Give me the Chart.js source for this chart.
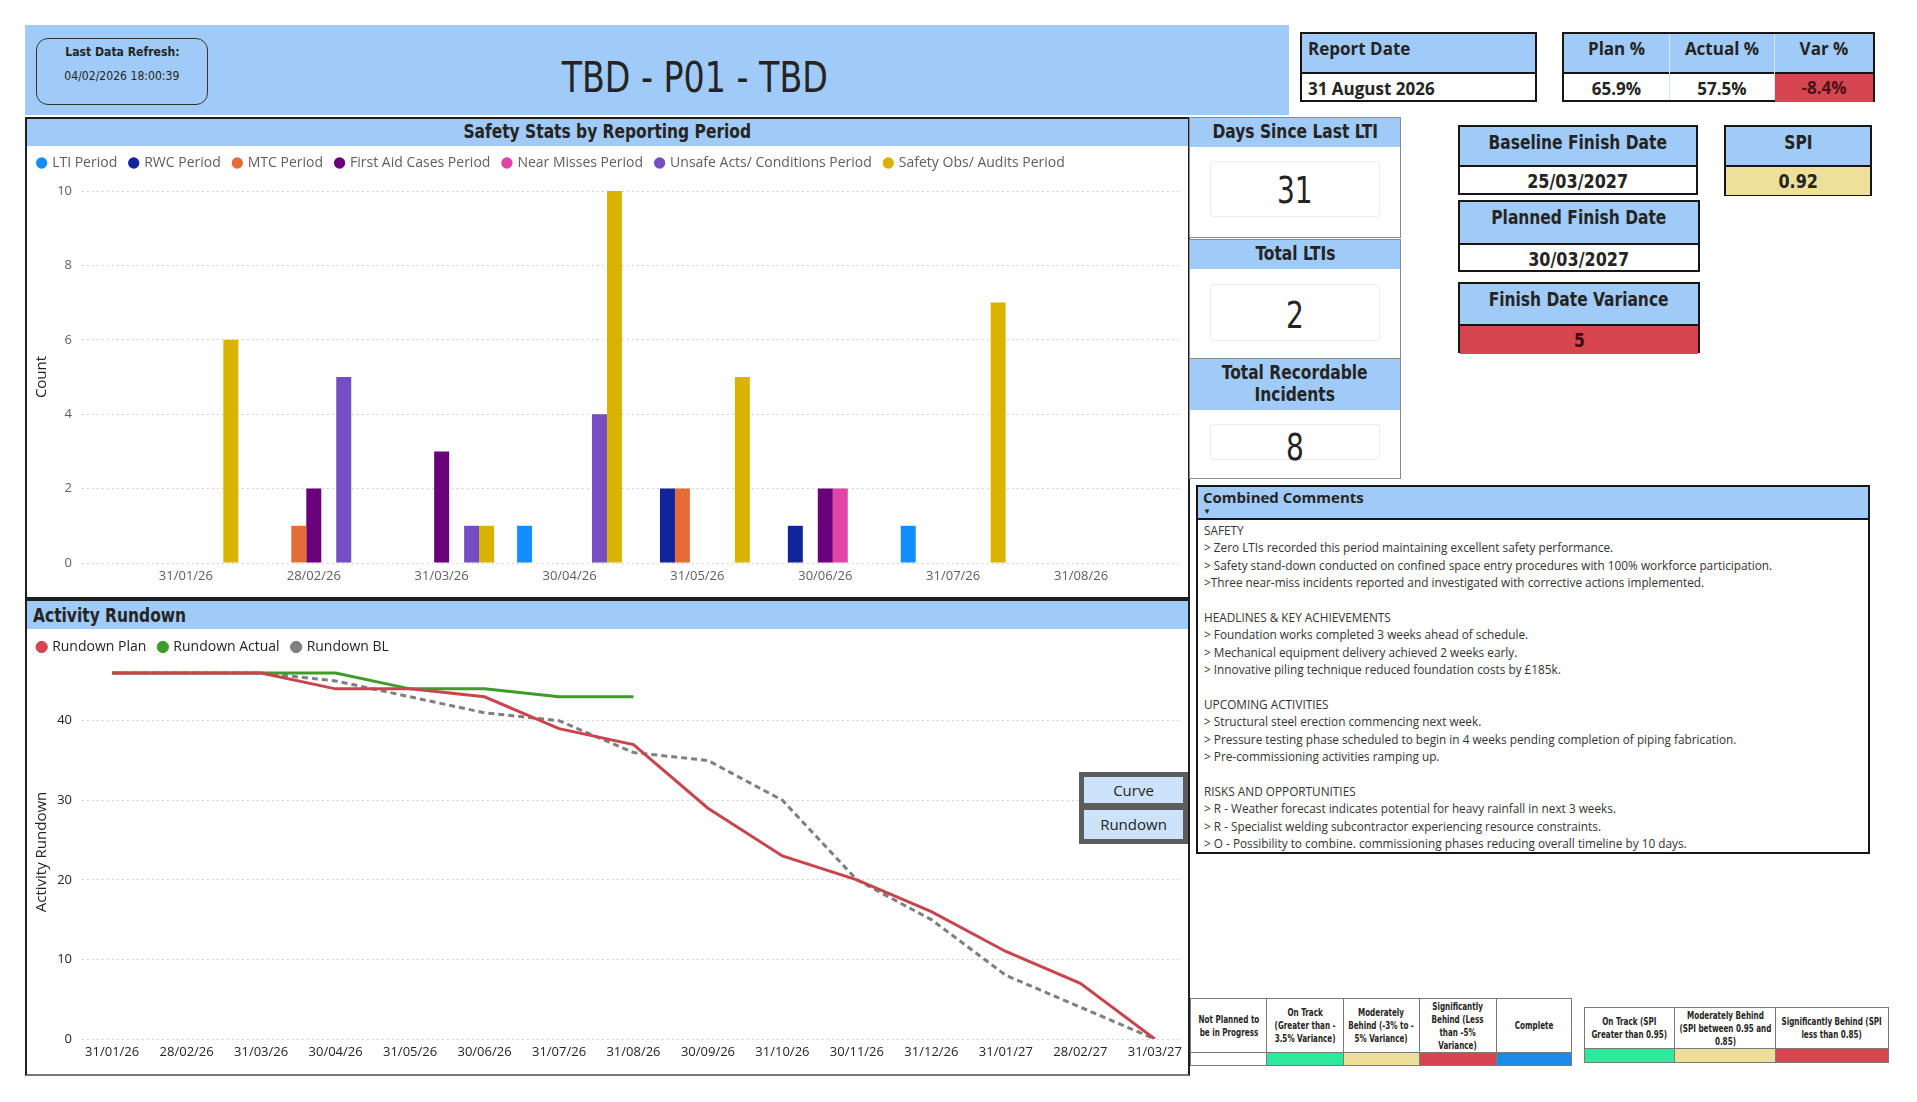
<!DOCTYPE html>
<html>
<head>
<meta charset="utf-8">
<title>TBD - P01 - TBD</title>
<script src="https://cdn.jsdelivr.net/npm/chart.js@4.4.1/dist/chart.umd.min.js"></script>
<style>
  body { margin:0; background:#fff; width:1917px; height:1102px; position:relative; overflow:hidden;
         font-family:'Open Sans', sans-serif; color:#252423; }
  .abs { position:absolute; box-sizing:border-box; }
  .din { font-family:'Liberation Sans Narrow', 'DejaVu Sans Condensed', sans-serif; }
  .sx  { display:inline-block; transform:scaleX(0.86); white-space:nowrap; }
  .sxl { display:inline-block; transform:scaleX(0.86); transform-origin:left center; white-space:nowrap; }
  .blue { background:#A0CBF8; }
  .kbox { border:2px solid #151515; }
  .khead { height:38px; border-bottom:2px solid #151515; text-align:center; font-weight:bold; font-size:20px; line-height:30px; }
  .kval { text-align:center; font-weight:bold; font-size:20px; line-height:28px; }
  .card { position:absolute; border:1px solid #ececec; border-radius:3px; text-align:center; font-size:38px; }
  .panel { border:1px solid #8a8a8a; }
  .phead { position:absolute; left:0; right:0; top:0; text-align:center; font-weight:bold; font-size:20px; }
  .leg { display:flex; border:1px solid #7a7a7a; font-family:'DejaVu Sans Condensed', sans-serif;
         font-weight:bold; font-size:10px; line-height:13px; text-align:center; }
  .leg > div { display:flex; flex-direction:column; flex:none; box-sizing:border-box; overflow:hidden;
               border-right:1px solid #7a7a7a; }
  .leg > div:last-child { border-right:none; }
  .leg .t { flex:1; display:flex; align-items:center; justify-content:center; }
  .leg .t span { display:inline-block; transform:scaleX(0.8); white-space:nowrap; }
  .leg .c { border-top:1px solid #7a7a7a; flex:none; }
  .btn { position:absolute; left:5px; width:99px; background:#CCE3FB; text-align:center; font-size:15px; }
  #comments div { height:17.4px; line-height:17.4px; white-space:nowrap; }
</style>
</head>
<body>

<!-- header band -->
<div class="abs blue" style="left:25px;top:25px;width:1264px;height:90px"></div>
<div class="abs din" style="left:36px;top:38px;width:172px;height:67px;border:1.5px solid #333;border-radius:12px;text-align:center;font-size:13px">
  <div style="font-weight:bold;margin-top:5px"><span class="sx" style="transform:scaleX(0.93)">Last Data Refresh:</span></div>
  <div style="margin-top:9px"><span class="sx" style="transform:scaleX(0.93)">04/02/2026 18:00:39</span></div>
</div>
<div class="abs din" style="left:445px;top:52px;width:500px;text-align:center;font-size:43px;line-height:50px"><span class="sx">TBD - P01 - TBD</span></div>

<!-- report date -->
<div class="abs kbox" style="left:1300px;top:32px;width:237px;height:70px">
  <div class="blue" style="height:38px;border-bottom:2px solid #151515;font-weight:bold;font-size:17px;line-height:29px;padding-left:6px">Report Date</div>
  <div style="font-weight:bold;font-size:17px;line-height:29px;padding-left:6px">31 August 2026</div>
</div>

<!-- plan / actual / var -->
<div class="abs kbox" style="left:1562px;top:32px;width:313px;height:70px;display:flex;font-weight:bold;font-size:17px;text-align:center">
  <div style="width:105px;border-right:1px solid #d8e6f5">
    <div class="blue" style="height:38px;border-bottom:2px solid #151515;line-height:29px">Plan %</div>
    <div style="line-height:29px">65.9%</div>
  </div>
  <div style="width:104px;border-right:1px solid #d8e6f5">
    <div class="blue" style="height:38px;border-bottom:2px solid #151515;line-height:29px">Actual %</div>
    <div style="line-height:29px">57.5%</div>
  </div>
  <div style="flex:1">
    <div class="blue" style="height:38px;border-bottom:2px solid #151515;line-height:29px">Var %</div>
    <div style="line-height:28px;background:#D64550;color:#4a1318">-8.4%</div>
  </div>
</div>

<!-- safety panel -->
<div class="abs" style="left:25px;top:117px;width:1165px;height:482px;border:2px solid #1e1e1e">
  <div class="phead din blue" style="height:27px;line-height:25px"><span class="sx">Safety Stats by Reporting Period</span></div>
</div>

<!-- activity rundown panel -->
<div class="abs" style="left:25px;top:599px;width:1165px;height:477px;border:2px solid #1e1e1e;border-bottom-color:#777">
  <div class="phead din blue" style="height:28px;line-height:28px;text-align:left;padding-left:6px"><span class="sxl">Activity Rundown</span></div>
</div>

<!-- HSE cards -->
<div class="abs panel" style="left:1189px;top:117px;width:212px;height:121px">
  <div class="phead din blue" style="height:29px;line-height:27px"><span class="sx">Days Since Last LTI</span></div>
  <div class="card din" style="left:20px;top:43px;width:168px;height:54px;line-height:56px"><span class="sx" style="transform:scaleX(0.82)">31</span></div>
</div>
<div class="abs panel" style="left:1189px;top:239px;width:212px;height:120px">
  <div class="phead din blue" style="height:29px;line-height:27px"><span class="sx">Total LTIs</span></div>
  <div class="card din" style="left:20px;top:44px;width:168px;height:55px;line-height:60px"><span class="sx" style="transform:scaleX(0.82)">2</span></div>
</div>
<div class="abs panel" style="left:1189px;top:358px;width:212px;height:121px">
  <div class="phead din blue" style="height:51px;line-height:22px;padding-top:2px;box-sizing:border-box"><span class="sx">Total Recordable<br>Incidents</span></div>
  <div class="card din" style="left:20px;top:65px;width:168px;height:34px;line-height:44px"><span class="sx" style="transform:scaleX(0.82)">8</span></div>
</div>

<!-- schedule KPIs -->
<div class="abs kbox din" style="left:1458px;top:125px;width:240px;height:70px">
  <div class="khead blue"><span class="sx">Baseline Finish Date</span></div>
  <div class="kval"><span class="sx" style="transform:scaleX(0.89)">25/03/2027</span></div>
</div>
<div class="abs kbox din" style="left:1458px;top:200px;width:242px;height:72px">
  <div class="khead blue" style="height:41px"><span class="sx">Planned Finish Date</span></div>
  <div class="kval"><span class="sx" style="transform:scaleX(0.89)">30/03/2027</span></div>
</div>
<div class="abs kbox din" style="left:1458px;top:282px;width:242px;height:71px">
  <div class="khead blue" style="height:40px"><span class="sx">Finish Date Variance</span></div>
  <div class="kval" style="background:#D64550;color:#3a0d10"><span class="sx">5</span></div>
</div>
<div class="abs kbox din" style="left:1724px;top:125px;width:148px;height:71px">
  <div class="khead blue"><span class="sx">SPI</span></div>
  <div class="kval" style="background:#EEE09B"><span class="sx" style="transform:scaleX(0.89)">0.92</span></div>
</div>

<!-- comments -->
<div class="abs kbox" style="left:1196px;top:485px;width:674px;height:369px;overflow:hidden">
  <div class="blue" style="height:33px;border-bottom:2px solid #151515;padding:0 0 0 5px;box-sizing:border-box;font-weight:bold;font-size:15px;line-height:20px">
    Combined Comments<div style="font-size:8px;line-height:8px">&#9660;</div>
  </div>
  <div id="comments" style="padding:2px 0 0 6px;font-size:11.8px;color:#333"></div>
</div>

<!-- charts -->
<canvas id="safetyChart" class="abs" width="1161" height="449" style="left:27px;top:147px;width:1161px;height:449px"></canvas>
<canvas id="rundownChart" class="abs" width="1161" height="444" style="left:27px;top:629px;width:1161px;height:444px"></canvas>

<!-- view toggle -->
<div class="abs" style="left:1079px;top:772px;width:109px;height:72px;background:#5d5d5d">
  <div class="btn" style="top:5px;height:26px;line-height:26px">Curve</div>
  <div class="btn" style="top:38px;height:29px;line-height:29px">Rundown</div>
</div>

<!-- status keys -->
<div class="abs leg" style="left:1190px;top:998px;width:382px;height:68px">
  <div style="width:76px"><div class="t"><span>Not Planned to<br>be in Progress</span></div><div class="c" style="height:12px;background:#fff"></div></div>
  <div style="width:77px"><div class="t"><span>On Track<br>(Greater than -<br>3.5% Variance)</span></div><div class="c" style="height:12px;background:#2EE89B"></div></div>
  <div style="width:76px"><div class="t"><span>Moderately<br>Behind (-3% to -<br>5% Variance)</span></div><div class="c" style="height:12px;background:#EEDE9A"></div></div>
  <div style="width:77px"><div class="t"><span>Significantly<br>Behind (Less<br>than -5%<br>Variance)</span></div><div class="c" style="height:12px;background:#D64550"></div></div>
  <div style="width:74px"><div class="t"><span>Complete</span></div><div class="c" style="height:12px;background:#1A8BE8"></div></div>
</div>
<div class="abs leg" style="left:1584px;top:1007px;width:305px;height:56px">
  <div style="width:90px"><div class="t"><span>On Track (SPI<br>Greater than 0.95)</span></div><div class="c" style="height:13px;background:#2EE89B"></div></div>
  <div style="width:101px"><div class="t"><span>Moderately Behind<br>(SPI between 0.95 and<br>0.85)</span></div><div class="c" style="height:13px;background:#EEDE9A"></div></div>
  <div style="width:112px"><div class="t"><span>Significantly Behind (SPI<br>less than 0.85)</span></div><div class="c" style="height:13px;background:#D64550"></div></div>
</div>

<script>
// ── Safety stats (counts per reporting period) ──
const safetyPeriods   = ['31/01/26','28/02/26','31/03/26','30/04/26','31/05/26','30/06/26','31/07/26','31/08/26'];
const ltiPeriod       = [null, null, null, 1,    null, null, 1,    null];
const rwcPeriod       = [null, null, null, null, 2,    1,    null, null];
const mtcPeriod       = [null, 1,    null, null, 2,    null, null, null];
const firstAidPeriod  = [null, 2,    3,    null, null, 2,    null, null];
const nearMissPeriod  = [null, null, null, null, null, 2,    null, null];
const unsafeActsPeriod= [null, 5,    1,    4,    null, null, null, null];
const safetyObsPeriod = [6,    null, 1,    10,   5,    null, 7,    null];

// ── Activity rundown ──
const rundownDates  = ['31/01/26','28/02/26','31/03/26','30/04/26','31/05/26','30/06/26','31/07/26','31/08/26',
                       '30/09/26','31/10/26','30/11/26','31/12/26','31/01/27','28/02/27','31/03/27'];
const rundownPlan   = [46, 46, 46, 44, 44, 43, 39, 37, 29, 23, 20, 16, 11, 7, 0];
const rundownActual = [46, 46, 46, 46, 44, 44, 43, 43, null, null, null, null, null, null, null];
const rundownBL     = [46, 46, 46, 45, 43, 41, 40, 36, 35, 30, 20, 15, 8, 4, 0];

const comments = [
  'SAFETY',
  '> Zero LTIs recorded this period maintaining excellent safety performance.',
  '> Safety stand-down conducted on confined space entry procedures with 100% workforce participation.',
  '>Three near-miss incidents reported and investigated with corrective actions implemented.',
  '',
  'HEADLINES & KEY ACHIEVEMENTS',
  '> Foundation works completed 3 weeks ahead of schedule.',
  '> Mechanical equipment delivery achieved 2 weeks early.',
  '> Innovative piling technique reduced foundation costs by £185k.',
  '',
  'UPCOMING ACTIVITIES',
  '> Structural steel erection commencing next week.',
  '> Pressure testing phase scheduled to begin in 4 weeks pending completion of piping fabrication.',
  '> Pre-commissioning activities ramping up.',
  '',
  'RISKS AND OPPORTUNITIES',
  '> R - Weather forecast indicates potential for heavy rainfall in next 3 weeks.',
  '> R - Specialist welding subcontractor experiencing resource constraints.',
  '> O - Possibility to combine. commissioning phases reducing overall timeline by 10 days.',
];
const box = document.getElementById('comments');
comments.forEach(line => {
  const d = document.createElement('div');
  d.textContent = line || '\u00a0';
  box.appendChild(d);
});

Chart.defaults.font.family = "'Open Sans', sans-serif";
Chart.defaults.color = '#605E5C';
Chart.defaults.animation = false;

const toPoints = arr => arr.map((v, i) => ({ x: i, y: v }));

// extra room under the legend, Power BI sits the legend higher than Chart.js does
const legendGap = extra => ({
  id: 'legendGap',
  beforeInit(chart) {
    const lg = chart.legend;
    if (!lg) return;
    const fit = lg.fit;
    lg.fit = function () { fit.call(this); this.height += extra; };
  }
});

// move the plot area onto the reference pixels by adjusting layout padding
function pinArea(chart, target) {
  const a = chart.chartArea, p = chart.options.layout.padding;
  p.left   += target.left - a.left;
  p.right  += a.right - target.right;
  p.top    += target.top - a.top;
  p.bottom += a.bottom - target.bottom;
  chart.update('none');
}

const dotted = { display: false, dash: [1.5, 3.5] };
const legendLabels = { usePointStyle: true, pointStyle: 'circle', boxWidth: 7, boxHeight: 8, padding: 13,
                       font: { size: 14 } };
const yTitlePad = { top: 8, bottom: -4 };

// ── Safety bar chart ──
const safetySeries = [
  ['LTI Period', ltiPeriod, '#118DFF'],
  ['RWC Period', rwcPeriod, '#12239E'],
  ['MTC Period', mtcPeriod, '#E66C37'],
  ['First Aid Cases Period', firstAidPeriod, '#6B007B'],
  ['Near Misses Period', nearMissPeriod, '#E044A7'],
  ['Unsafe Acts/ Conditions Period', unsafeActsPeriod, '#744EC2'],
  ['Safety Obs/ Audits Period', safetyObsPeriod, '#D9B300'],
];

const safetyChart = new Chart(document.getElementById('safetyChart'), {
  type: 'bar',
  data: {
    datasets: safetySeries.map(([label, data, color]) => ({
      label, data: toPoints(data), backgroundColor: color, borderWidth: 0,
      categoryPercentage: 0.82, barPercentage: 1.0
    }))
  },
  options: {
    responsive: false,
    layout: { padding: { left: 0, right: 0, top: 0, bottom: 0 } },
    plugins: {
      legend: { position: 'top', align: 'start', labels: { ...legendLabels, color: '#605E5C' } },
      tooltip: { enabled: false }
    },
    scales: {
      x: {
        type: 'linear', offset: false, min: -0.8125, max: 7.766,
        grid: { display: false, drawTicks: false }, border: { display: false },
        ticks: { stepSize: 1, autoSkip: false, maxRotation: 0, includeBounds: false, padding: 5,
                 font: { size: 13 }, callback: v => safetyPeriods[v] ?? '' }
      },
      y: {
        min: 0, max: 10,
        grid: { color: '#C8C8C8', drawTicks: false }, border: dotted,
        ticks: { stepSize: 2, padding: 10, font: { size: 13 } },
        title: { display: true, text: 'Count', color: '#252423', font: { size: 15 }, padding: yTitlePad }
      }
    }
  },
  plugins: [legendGap(11)]
});
pinArea(safetyChart, { left: 55, right: 1152, top: 44, bottom: 416 });

// ── Activity rundown line chart ──
const rundownChart = new Chart(document.getElementById('rundownChart'), {
  type: 'line',
  data: {
    datasets: [
      { label: 'Rundown Plan', data: toPoints(rundownPlan), borderColor: '#C8454F', backgroundColor: '#D64550' },
      { label: 'Rundown Actual', data: toPoints(rundownActual).filter(p => p.y !== null),
        borderColor: '#3E9C2A', backgroundColor: '#3E9C2A' },
      { label: 'Rundown BL', data: toPoints(rundownBL), borderColor: '#7F7F7F', backgroundColor: '#808080',
        borderDash: [6, 4] }
    ]
  },
  options: {
    responsive: false,
    layout: { padding: { left: 0, right: 0, top: 0, bottom: 0 } },
    elements: { point: { radius: 0 }, line: { borderWidth: 3, tension: 0 } },
    plugins: {
      legend: { position: 'top', align: 'start', labels: { ...legendLabels, color: '#252423' } },
      tooltip: { enabled: false }
    },
    scales: {
      x: {
        type: 'linear', offset: false, min: -0.405, max: 14.351,
        grid: { display: false, drawTicks: false }, border: { display: false },
        ticks: { stepSize: 1, autoSkip: false, maxRotation: 0, includeBounds: false, padding: 5,
                 font: { size: 13 }, color: '#252423', callback: v => rundownDates[v] ?? '' }
      },
      y: {
        min: 0, max: 47,
        grid: { color: '#C8C8C8', drawTicks: false }, border: dotted,
        ticks: { stepSize: 10, padding: 10, includeBounds: false, font: { size: 13 }, color: '#252423' },
        title: { display: true, text: 'Activity Rundown', color: '#252423', font: { size: 15 }, padding: yTitlePad }
      }
    }
  },
  plugins: [legendGap(1)]
});
pinArea(rundownChart, { left: 55, right: 1148, top: 36, bottom: 410 });
</script>
</body>
</html>
